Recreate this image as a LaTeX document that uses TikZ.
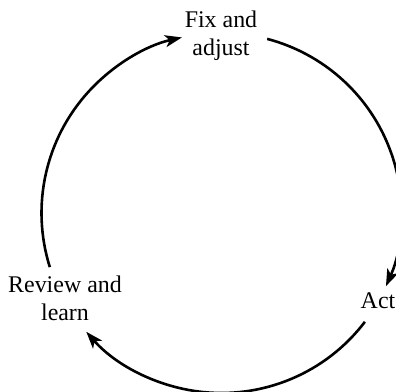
\documentclass[tikz,border=0pt]{standalone}
\usepackage{fontspec}
\setmainfont{Liberation Serif}
\usetikzlibrary{arrows.meta}
\begin{document}
\begin{tikzpicture}[x=1bp,y=1bp,
  lbl/.style={align=center,inner sep=0pt,font=\fontsize{24}{28}\selectfont},
  flow/.style={line width=2.6bp,-{Stealth[length=17bp,width=12bp,inset=4.5bp]}}]
  \useasboundingbox (0,0) rectangle (396,392);
  % centre of the cycle
  \coordinate (c) at (221.5,179);
  % stage labels (base anchor sits on the last line)
  \node[lbl,anchor=base] (fix) at (221,337) {Fix and\\adjust};
  \node[lbl,anchor=base] (act) at (378,84) {Act};
  \node[lbl,anchor=base] (review) at (65,72) {Review and\\learn};
  % arcs of the cycle, running clockwise
  \draw[flow] (c) ++(75.3:180) arc[start angle=75.3,end angle=-24,radius=180];
  \draw[flow] (c) ++(-37.2:180) arc[start angle=-37.2,end angle=-138.7,radius=180];
  \draw[flow] (c) ++(197.5:180) arc[start angle=197.5,end angle=102.7,radius=180];
\end{tikzpicture}
\end{document}
